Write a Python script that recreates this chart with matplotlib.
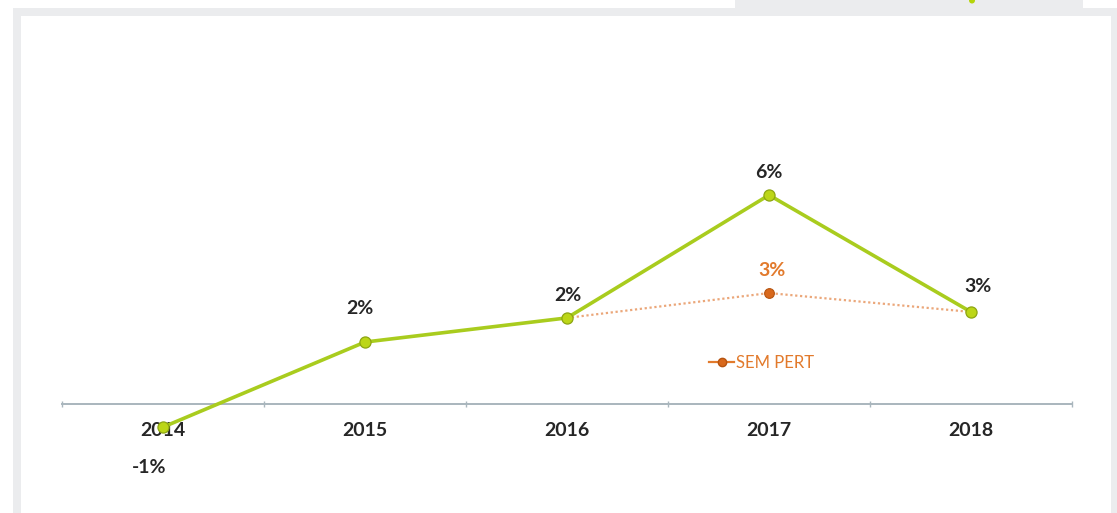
import matplotlib
matplotlib.use("Agg")
import matplotlib.pyplot as plt
from matplotlib.lines import Line2D
from matplotlib.patches import Rectangle, Ellipse

# dados do gráfico
anos = ["2014", "2015", "2016", "2017", "2018"]
crescimento = [-0.66, 1.77, 2.46, 5.97, 2.63]
rotulos = ["-1%", "2%", "2%", "6%", "3%"]
sem_pert_anos = [2, 3, 4]
sem_pert = [2.46, 3.17, 2.63]
sem_pert_rotulo = "3%"

verde = "#a9cc1e"
laranja = "#e27a2c"
texto = "#262626"

plt.rcParams["font.family"] = ["Lato", "DejaVu Sans"]

W, H = 1117, 513
fig = plt.figure(figsize=(W / 100, H / 100), dpi=100)
fig.patch.set_facecolor("white")

# moldura cinza de fundo
def px_rect(x0, y0, x1, y1, cor):
    fig.patches.append(Rectangle((x0 / W, 1 - y1 / H), (x1 - x0) / W, (y1 - y0) / H,
                                 transform=fig.transFigure, facecolor=cor,
                                 edgecolor="none", zorder=-2))

px_rect(13, 8, 1117, 513, "#ebecee")
px_rect(735, 0, 1083, 16, "#ebecee")
px_rect(21, 16, 1111, 513, "white")
fig.patches.append(Ellipse((972 / W, 1 - 0.5 / H), 6 / W, 6 / H, transform=fig.transFigure,
                           facecolor="#b5d40a", edgecolor="none", zorder=-1))

ax = fig.add_axes([62 / W, 13 / H, 1010 / W, 460 / H])
ax.set_zorder(2)
ax.set_facecolor("none")
x = list(range(len(anos)))

ax.plot(sem_pert_anos, sem_pert, color="#eba77a", lw=1.6, ls=(0, (1, 1.2)), zorder=2)
ax.plot(sem_pert_anos[1], sem_pert[1], "o", ms=7, color="#d8681c",
        markeredgecolor="#b6530f", markeredgewidth=0.8, zorder=3)
ax.plot(x, crescimento, color=verde, lw=2.6, zorder=4)
ax.plot(x, crescimento, "o", ms=8, color="#bcd617", markeredgecolor="#8da512",
        markeredgewidth=0.9, zorder=5)

# rótulos dos valores
desloc = [-40, 34, 22, 23, 25]
dx = [-14, -5, 1, 0, 7]
for i, (v, r) in enumerate(zip(crescimento, rotulos)):
    ax.annotate(r, (i, v), xytext=(dx[i] * 0.72, desloc[i] * 0.72), textcoords="offset points",
                ha="center", va="center", fontsize=14, fontweight="bold", color=texto)
ax.annotate(sem_pert_rotulo, (sem_pert_anos[1], sem_pert[1]), xytext=(2, 23 * 0.72),
            textcoords="offset points", ha="center", va="center", fontsize=14,
            fontweight="bold", color=laranja)

ax.set_xlim(-0.5, len(anos) - 0.5)
ax.set_ylim(-96 / 35, 364 / 35)
for s in ["top", "right", "left"]:
    ax.spines[s].set_visible(False)
ax.spines["bottom"].set_position(("data", 0))
ax.spines["bottom"].set_color("#a9b6bd")
ax.spines["bottom"].set_linewidth(1.4)
ax.set_yticks([])
ax.set_xticks(x)
ax.set_xticklabels(anos, fontsize=14, fontweight="bold", color=texto)
ax.tick_params(axis="x", which="major", length=0, pad=13)
ax.set_xticks([i - 0.5 for i in range(len(anos) + 1)], minor=True)
ax.tick_params(axis="x", which="minor", length=4, width=1, color="#a9b6bd", direction="inout")

handle = Line2D([], [], color=laranja, lw=1.6, marker="o", ms=6,
                markerfacecolor="#d8681c", markeredgecolor="#b6530f")
leg = ax.legend([handle], ["SEM PERT"], loc="center left",
                bbox_to_anchor=(709 / W, 1 - 363 / H), bbox_transform=fig.transFigure,
                frameon=False, fontsize=12, handlelength=1.5, handletextpad=0.1,
                borderpad=0, borderaxespad=0)
for t in leg.get_texts():
    t.set_color(laranja)

fig.savefig("out.png", dpi=100)
